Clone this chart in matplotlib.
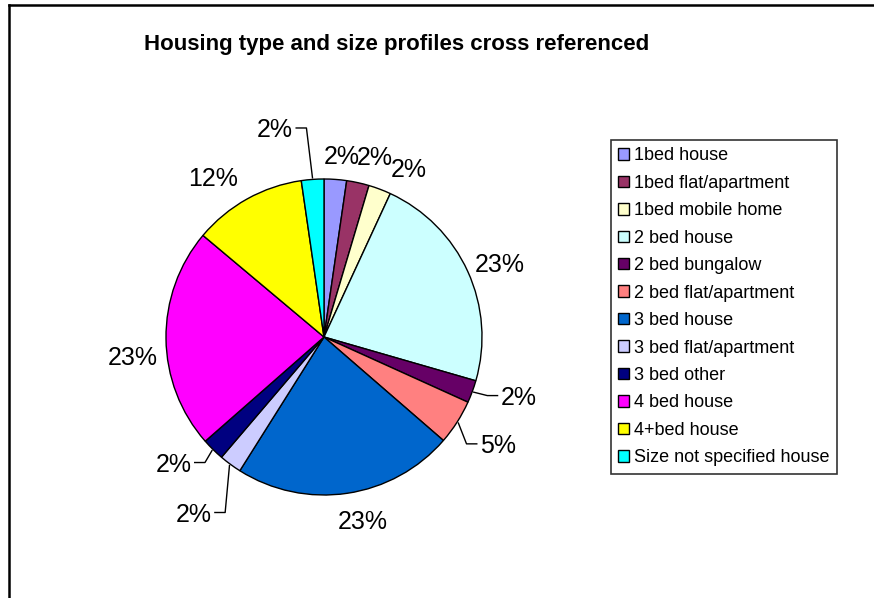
import numpy as np
import matplotlib.pyplot as plt
from matplotlib.lines import Line2D

# chart data (percent shares)
categories = [
    "1bed house", "1bed flat/apartment", "1bed mobile home", "2 bed house",
    "2 bed bungalow", "2 bed flat/apartment", "3 bed house", "3 bed flat/apartment",
    "3 bed other", "4 bed house", "4+bed house", "Size not specified house",
]
shares = [2.3, 2.3, 2.3, 22.6, 2.3, 4.6, 22.6, 2.3, 2.3, 22.6, 11.6, 2.3]
colors = ["#9999FF", "#993366", "#FFFFCC", "#CCFFFF", "#660066", "#FF8080",
          "#0066CC", "#CCCCFF", "#000080", "#FF00FF", "#FFFF00", "#00FFFF"]
title = "Housing type and size profiles cross referenced"

# label layout (radial distance, clockwise shift in degrees, leader line)
label_dist = [1.158, 1.196, 1.203, 1.211, 1.288, 1.293, 1.183, 1.384, 1.241, 1.214, 1.238, 1.359]
label_shift = [1.5, 3.3, 5.9, 1.5, -3.5, -1.1, -3.5, 0.3, 5.6, -4.9, -5.5, -9.1]
leader = [False, False, False, False, True, True, False, True, True, False, False, True]

plt.rcParams['font.family'] = ['Liberation Sans', 'DejaVu Sans']

W, H = 874, 598
fig = plt.figure(figsize=(W / 100, H / 100), dpi=100)

ax = fig.add_axes([166 / W, (H - 495) / H, 316 / W, 316 / H])
wedges, _ = ax.pie(shares, colors=colors, startangle=90, counterclock=False,
                   wedgeprops=dict(edgecolor='black', linewidth=1))
ax.set_xlim(-1, 1)
ax.set_ylim(-1, 1)
ax.axis('off')

total = sum(shares)
for w, v, d, s, lead in zip(wedges, shares, label_dist, label_shift, leader):
    mid = np.radians((w.theta1 + w.theta2) / 2)
    ang = mid - np.radians(s)
    cx, cy = d * np.cos(ang), d * np.sin(ang)
    ax.text(cx, cy, f"{v / total * 100:.0f}%", ha='center', va='center_baseline',
            fontsize=18, clip_on=False)
    if lead:
        side = 1 if cx > 0 else -1
        ex, ey = 1.01 * np.cos(mid), 1.01 * np.sin(mid)
        ax.plot([ex, cx - side * 0.20, cx - side * 0.135], [ey, cy, cy],
                color='black', lw=1, clip_on=False)

leg = fig.legend(wedges, categories, loc='upper left',
                 bbox_to_anchor=(611 / W, 1 - 140 / H), frameon=True, fancybox=False,
                 edgecolor='black', fontsize=13, handlelength=0.6, handleheight=0.6,
                 handletextpad=0.3, labelspacing=0.58, borderpad=0.4, borderaxespad=0)
leg.get_frame().set_linewidth(1.2)

fig.text(397 / W, 1 - 50 / H, title, ha='center', va='baseline',
         fontsize=16, fontweight='bold')

# chart area border (left and top edges visible)
fig.add_artist(Line2D([9 / W, 9 / W], [0, 1 - 4.5 / H], color='black', lw=1.8))
fig.add_artist(Line2D([9 / W, 1], [1 - 4.5 / H, 1 - 4.5 / H], color='black', lw=1.8))

fig.savefig("out.png", dpi=100)
